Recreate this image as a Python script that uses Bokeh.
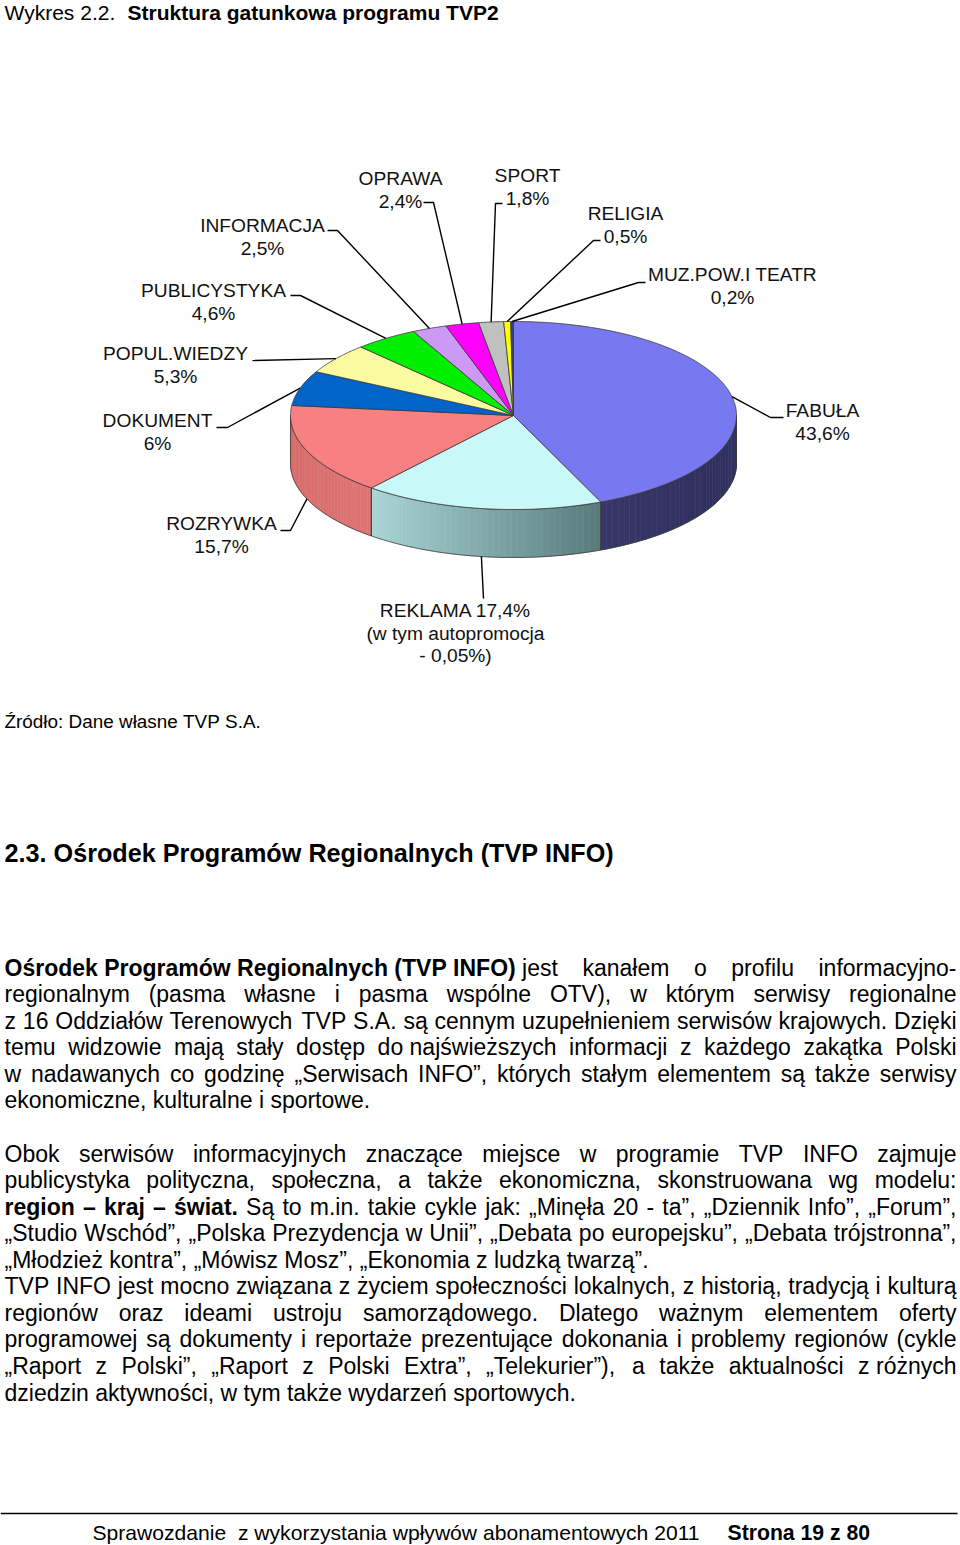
import numpy as np
from bokeh.plotting import figure
from bokeh.models import Range1d, ColumnDataSource
from bokeh.embed import file_html
from bokeh.resources import INLINE
from bokeh.core.properties import value

# ---------------- data ----------------
categories = ["FABUŁA", "REKLAMA", "ROZRYWKA", "DOKUMENT", "POPUL.WIEDZY", "PUBLICYSTYKA",
              "INFORMACJA", "OPRAWA", "SPORT", "RELIGIA", "MUZ.POW.I TEATR"]
shares = [43.6, 17.4, 15.7, 6.0, 5.3, 4.6, 2.5, 2.4, 1.8, 0.5, 0.2]
share_labels = ["43,6%", "17,4%", "15,7%", "6%", "5,3%", "4,6%", "2,5%", "2,4%", "1,8%", "0,5%", "0,2%"]
reklama_note = ["(w tym autopromocja", "- 0,05%)"]

top_colors = ["#7878f0", "#c8f8f8", "#f88080", "#0064c8", "#fafaa0", "#00ee00",
              "#cc99f5", "#ff00ff", "#c0c0c0", "#ffff00", "#3c3c8c"]

# ---------------- page mapping ----------------
S = 1.0
FONT = "Liberation Sans"

p = figure(width=960, height=1545, x_range=Range1d(0, 960), y_range=Range1d(1545, 0),
           output_backend="svg", toolbar_location=None, min_border=0,
           x_axis_type=None, y_axis_type=None)
p.grid.visible = False
p.outline_line_color = None
p.background_fill_color = "white"
p.border_fill_color = "white"

# ---------------- 3D pie ----------------
cx, cy, rx, ry, depth = 513.0, 415.0, 223.0, 94.0, 48.0


def arc(a, b, dy=0.0):
    n = max(3, int(abs(b - a) * 2) + 2)
    t = np.radians(np.linspace(a, b, n))
    return cx + rx * np.sin(t), cy - ry * np.cos(t) + dy


def hexlerp(c1, c2, t):
    a = [int(c1[i:i + 2], 16) for i in (1, 3, 5)]
    b = [int(c2[i:i + 2], 16) for i in (1, 3, 5)]
    return "#%02x%02x%02x" % tuple(int(round(a[k] + (b[k] - a[k]) * t)) for k in range(3))


side_cols = {0: ("#363668", "#30305e"), 1: ("#aad6d6", "#587a7a"), 2: ("#d86c6c", "#de7676")}

cum = np.concatenate([[0.0], np.cumsum(shares)])
angles = cum * 3.6

strip_xs, strip_ys, strip_c = [], [], []
side_xs, side_ys = [], []
for i in range(len(shares)):
    a, b = angles[i], angles[i + 1]
    lo, hi = max(a, 90.0), min(b, 270.0)
    if hi <= lo:
        continue
    tx, ty = arc(lo, hi)
    bx, by = arc(hi, lo, depth)
    side_xs.append(list(tx) + list(bx))
    side_ys.append(list(ty) + list(by))
    c1, c2 = side_cols.get(i, ("#808080", "#808080"))
    nstr = 40
    edges = np.linspace(lo, hi, nstr + 1)
    xa = cx + rx * np.sin(np.radians(lo))
    xb = cx + rx * np.sin(np.radians(hi))
    for k in range(nstr):
        e1, e2 = edges[k], edges[k + 1]
        sx, sy = arc(e1, e2)
        ex, ey = arc(e2, e1, depth)
        strip_xs.append(list(sx) + list(ex))
        strip_ys.append(list(sy) + list(ey))
        xm = cx + rx * np.sin(np.radians((e1 + e2) / 2))
        t = (xm - min(xa, xb)) / max(1e-6, abs(xa - xb))
        strip_c.append(hexlerp(c1, c2, float(np.clip(t, 0, 1))))

p.patches(xs=strip_xs, ys=strip_ys, fill_color=strip_c, line_color=strip_c, line_width=0.6)
p.patches(xs=side_xs, ys=side_ys, fill_alpha=0, line_color="#3a3a3a", line_width=0.8)

wedge_xs, wedge_ys = [], []
for i in range(len(shares)):
    ax_, ay_ = arc(angles[i], angles[i + 1])
    wedge_xs.append([cx] + list(ax_))
    wedge_ys.append([cy] + list(ay_))
p.patches(xs=wedge_xs, ys=wedge_ys, fill_color=top_colors, line_color="#3a3a3a", line_width=0.8)

# ---------------- labels & leaders ----------------
label_layout = {
    "FABUŁA": (822, 410, [(770, 417), (783, 417)], False),
    "REKLAMA": (455, 610, [(483, 598)], True),
    "ROZRYWKA": (221, 523, [(290, 530), (280, 530)], True),
    "DOKUMENT": (157, 420, [(227, 427), (216, 427)], False),
    "POPUL.WIEDZY": (175, 353, [(252, 360)], False),
    "PUBLICYSTYKA": (213, 290, [(300, 295), (290, 295)], False),
    "INFORMACJA": (262, 225, [(337, 230), (327, 230)], False),
    "OPRAWA": (400, 178, [(433, 202), (423, 202)], False),
    "SPORT": (527, 175, [(495, 203), (502, 203)], False),
    "RELIGIA": (625, 213, [(593, 240), (600, 240)], False),
    "MUZ.POW.I TEATR": (732, 274, [(638, 282), (645, 282)], False),
}

lead_xs, lead_ys = [], []
lx, ly, lt = [], [], []
LFS = 19.2
LSTEP = 22.5
for i, cat in enumerate(categories):
    mid = (angles[i] + angles[i + 1]) / 2
    x0, y0, elbows, on_side = label_layout[cat]
    ax0 = cx + rx * np.sin(np.radians(mid))
    ay0 = cy - ry * np.cos(np.radians(mid)) + (depth if on_side else 0)
    lead_xs.append([ax0] + [e[0] for e in elbows])
    lead_ys.append([ay0] + [e[1] for e in elbows])
    if cat == "REKLAMA":
        lines = [cat + " " + share_labels[i]] + reklama_note
    else:
        lines = [cat, share_labels[i]]
    for j, s in enumerate(lines):
        lx.append(x0)
        ly.append(y0 + j * LSTEP)
        lt.append(s)

p.multi_line(xs=lead_xs, ys=lead_ys, line_color="black", line_width=1.4)
p.text(x="x", y="y", text="t", source=ColumnDataSource(dict(x=lx, y=ly, t=lt)),
       text_font=value(FONT), text_font_size=value("%.2fpx" % (LFS * S)),
       text_align="center", text_baseline="middle", text_color="#111111")

# ---------------- text layout helpers ----------------
REG = {}
BLD = {}
for ch, w in zip("abcdefghijklmnopqrstuvwxyz",
                 [556, 556, 500, 556, 556, 278, 556, 556, 222, 222, 500, 222, 833, 556, 556, 556, 556, 333, 500, 278, 556, 500, 722, 500, 500, 500]):
    REG[ch] = w
for ch, w in zip("ABCDEFGHIJKLMNOPQRSTUVWXYZ",
                 [667, 667, 722, 722, 667, 611, 778, 722, 278, 500, 667, 556, 833, 722, 778, 667, 778, 722, 667, 611, 722, 667, 944, 667, 667, 611]):
    REG[ch] = w
for ch, w in zip("abcdefghijklmnopqrstuvwxyz",
                 [556, 611, 556, 611, 556, 333, 611, 611, 278, 278, 556, 278, 889, 611, 611, 611, 611, 389, 556, 333, 611, 556, 778, 556, 556, 500]):
    BLD[ch] = w
for ch, w in zip("ABCDEFGHIJKLMNOPQRSTUVWXYZ",
                 [722, 722, 722, 722, 667, 611, 778, 722, 278, 556, 722, 611, 833, 722, 778, 667, 778, 722, 667, 611, 722, 667, 944, 667, 667, 611]):
    BLD[ch] = w
for d in "0123456789":
    REG[d] = 556
    BLD[d] = 556
REG.update({" ": 278, ".": 278, ",": 278, ":": 278, ";": 278, "(": 333, ")": 333, "-": 333,
            "–": 556, "%": 889, "„": 333, "”": 333,
            "ą": 556, "ć": 500, "ę": 556, "ł": 222, "ń": 556, "ó": 556, "ś": 500, "ź": 500, "ż": 500,
            "Ś": 667, "Ź": 611, "Ż": 611, "Ł": 556, "Ó": 778})
BLD.update({" ": 278, ".": 278, ",": 278, ":": 333, ";": 333, "(": 333, ")": 333, "-": 333,
            "–": 556, "%": 889, "„": 500, "”": 500,
            "ą": 556, "ć": 556, "ę": 556, "ł": 278, "ń": 611, "ó": 611, "ś": 556, "ź": 500, "ż": 500,
            "Ś": 667, "Ź": 611, "Ż": 611, "Ł": 611, "Ó": 778})


def tw(s, bold):
    tab = BLD if bold else REG
    return sum(tab.get(c, 556) for c in s) / 1000.0


def parse(line):
    tokens, cur, seg, bold = [], [], "", False

    def flush():
        nonlocal seg
        if seg:
            cur.append((seg, bold))
            seg = ""

    for ch in line:
        if ch == "*":
            flush()
            bold = not bold
        elif ch == " ":
            flush()
            if cur:
                tokens.append(cur)
                cur = []
        elif ch == "~":
            flush()
            cur.append(None)
        else:
            seg += ch
    flush()
    if cur:
        tokens.append(cur)
    return tokens


runs = {False: dict(x=[], y=[], t=[], fs=[]), True: dict(x=[], y=[], t=[], fs=[])}


def place_line(line, y, fs, left=4.0, right=956.0, justify=False):
    toks = parse(line)
    sp = 0.278 * fs
    widths = []
    for tok in toks:
        w = 0.0
        for it in tok:
            w += sp if it is None else tw(it[0], it[1]) * fs
        widths.append(w)
    if justify and len(toks) > 1:
        gap = (right - left - sum(widths)) / (len(toks) - 1)
    else:
        gap = sp
    x = left
    for tok, w in zip(toks, widths):
        xx = x
        for it in tok:
            if it is None:
                xx += sp
                continue
            r = runs[it[1]]
            r["x"].append(xx)
            r["y"].append(y)
            r["t"].append(it[0])
            r["fs"].append("%.2fpx" % (fs * S))
            xx += tw(it[0], it[1]) * fs
        x += w + gap


# ---------------- page text ----------------
place_line("Wykres~2.2.", 12, 21.0)
place_line("*Struktura gatunkowa programu TVP2*", 12, 21.0, left=127)
place_line("Źródło: Dane własne TVP S.A.", 721, 18.9)
place_line("*2.3. Ośrodek Programów Regionalnych (TVP INFO)*", 852, 25.2)

BFS = 23.0
para1 = [
    ("*Ośrodek~Programów~Regionalnych~(TVP~INFO)*~jest kanałem o profilu informacyjno-", True),
    ("regionalnym (pasma własne i pasma wspólne OTV), w którym serwisy regionalne", True),
    ("z 16 Oddziałów Terenowych TVP S.A. są cennym uzupełnieniem serwisów krajowych. Dzięki", True),
    ("temu widzowie mają stały dostęp do~najświeższych informacji z każdego zakątka Polski", True),
    ("w nadawanych co godzinę „Serwisach INFO”, których stałym elementem są także serwisy", True),
    ("ekonomiczne, kulturalne i sportowe.", False),
]
para2 = [
    ("Obok serwisów informacyjnych znaczące miejsce w programie TVP INFO zajmuje", True),
    ("publicystyka polityczna, społeczna, a także ekonomiczna, skonstruowana wg modelu:", True),
    ("*region – kraj – świat.* Są to m.in. takie cykle jak: „Minęła 20 - ta”, „Dziennik Info”, „Forum”,", True),
    ("„Studio Wschód”, „Polska Prezydencja w Unii”, „Debata po europejsku”, „Debata trójstronna”,", True),
    ("„Młodzież kontra”, „Mówisz Mosz”, „Ekonomia z ludzką twarzą”.", False),
    ("TVP INFO jest mocno związana z życiem społeczności lokalnych, z historią, tradycją i kulturą", True),
    ("regionów oraz ideami ustroju samorządowego. Dlatego ważnym elementem oferty", True),
    ("programowej są dokumenty i reportaże prezentujące dokonania i problemy regionów (cykle", True),
    ("„Raport z Polski”, „Raport z Polski Extra”, „Telekurier”), a także aktualności z~różnych", True),
    ("dziedzin aktywności, w tym także wydarzeń sportowych.", False),
]
LH = 26.56
for k, (ln, j) in enumerate(para1):
    place_line(ln, 967 + k * LH, BFS, justify=j)
for k, (ln, j) in enumerate(para2):
    place_line(ln, 1153 + k * LH, BFS, justify=j)

# footer
p.line(x=[0, 957], y=[1513, 1513], line_color="black", line_width=1.5)
place_line("Sprawozdanie~~z wykorzystania wpływów abonamentowych 2011", 1532, 21.1, left=92)
place_line("*Strona 19 z 80*", 1532, 21.2, left=727)

for bold, r in runs.items():
    p.text(x="x", y="y", text="t", source=ColumnDataSource(r),
           text_font=value(FONT), text_font_size="fs",
           text_font_style="bold" if bold else "normal",
           text_align="left", text_baseline="middle", text_color="black")

open("out.html", "w").write(file_html(p, INLINE))
